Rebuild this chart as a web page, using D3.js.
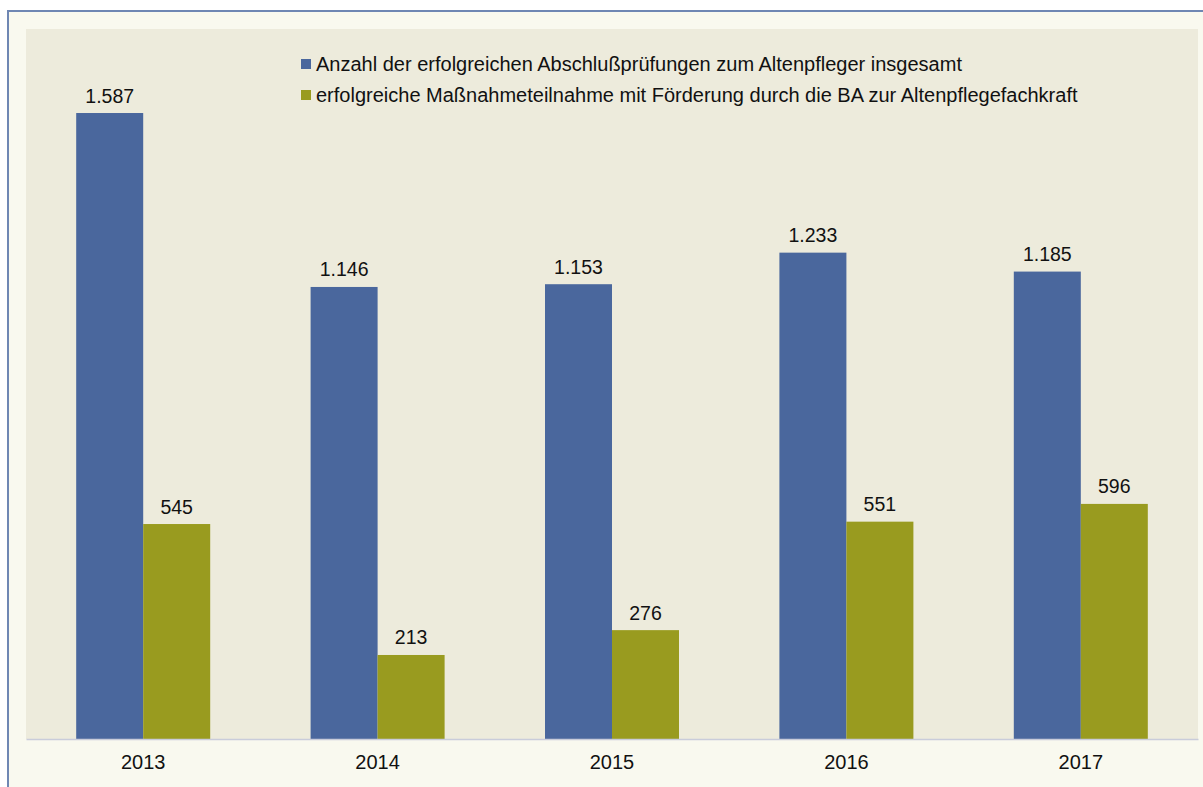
<!DOCTYPE html>
<html>
<head>
<meta charset="utf-8">
<script src="https://cdn.jsdelivr.net/npm/d3@7"></script>
<style>
  body { margin: 0; background: #ffffff; }
  svg { display: block; font-family: "Liberation Sans", Arial, sans-serif; }
</style>
</head>
<body>
<div id="bar-chart"></div>
<script>
const years = ["2013", "2014", "2015", "2016", "2017"];
const seriesNames = [
    "Anzahl der erfolgreichen Abschlußprüfungen zum Altenpfleger insgesamt",
    "erfolgreiche Maßnahmeteilnahme mit Förderung durch die BA zur Altenpflegefachkraft"
];
const abschluesse = [1587, 1146, 1153, 1233, 1185];
const massnahmen = [545, 213, 276, 551, 596];
const colors = ["#4a679d", "#999b1f"];

const W = 1203, H = 787;
const plot = { left: 26, right: 1198, top: 29, bottom: 739 };

const svg = d3.select("#bar-chart")
    .append("svg")
    .attr("width", W)
    .attr("height", H);

// outer frame (runs off the right and bottom edge)
svg.append("rect")
    .attr("x", 8).attr("y", 11)
    .attr("width", W + 20).attr("height", H + 20)
    .attr("fill", "#f9f9ef")
    .attr("stroke", "#6f87b3")
    .attr("stroke-width", 2);

// plot area
svg.append("rect")
    .attr("x", plot.left).attr("y", plot.top)
    .attr("width", plot.right - plot.left)
    .attr("height", plot.bottom - plot.top)
    .attr("fill", "#edebdc");

const x0 = d3.scaleBand().domain(years).range([plot.left, plot.right]).paddingInner(0).paddingOuter(0);
const x1 = d3.scaleBand().domain([0, 1]).range([x0.bandwidth() / 2 - 67, x0.bandwidth() / 2 + 67]);
const y = d3.scaleLinear().domain([0, 1800]).range([plot.bottom, plot.top]);

const data = years.map((yr, i) => ({ year: yr, values: [abschluesse[i], massnahmen[i]] }));
const fmt = v => d3.format(",")(v).replace(",", ".");

const groups = svg.selectAll("g.year")
    .data(data)
    .enter()
    .append("g")
    .attr("class", "year")
    .attr("transform", d => `translate(${x0(d.year)},0)`);

groups.selectAll("rect")
    .data(d => d.values.map((v, k) => ({ k, v })))
    .enter()
    .append("rect")
    .attr("x", d => x1(d.k))
    .attr("y", d => y(d.v))
    .attr("width", x1.bandwidth())
    .attr("height", d => y(0) - y(d.v))
    .attr("fill", d => colors[d.k]);

groups.selectAll("text.value")
    .data(d => d.values.map((v, k) => ({ k, v })))
    .enter()
    .append("text")
    .attr("class", "value")
    .attr("x", d => x1(d.k) + x1.bandwidth() / 2)
    .attr("y", d => y(d.v) - 10.5)
    .attr("text-anchor", "middle")
    .style("font-size", "19.5px")
    .style("fill", "#111")
    .text(d => fmt(d.v));

// x axis
const xAxis = d3.axisBottom(x0).tickSize(0).tickPadding(16);
const ax = svg.append("g")
    .attr("transform", `translate(0,${plot.bottom})`)
    .call(xAxis);
ax.select(".domain").attr("stroke", "#c9ccda").attr("stroke-width", 1.5);
ax.selectAll("text")
    .style("font-size", "20px")
    .style("font-family", "Liberation Sans, Arial, sans-serif")
    .attr("fill", "#111");

// legend
const legend = svg.append("g").attr("transform", "translate(301,64)");
seriesNames.forEach((name, k) => {
    const row = legend.append("g").attr("transform", `translate(0,${k * 31})`);
    row.append("rect").attr("x", 0).attr("y", -5).attr("width", 10).attr("height", 10).attr("fill", colors[k]);
    row.append("text")
        .attr("x", 15)
        .attr("y", 0)
        .attr("dy", "0.35em")
        .style("font-size", "20px")
        .style("fill", "#111")
        .text(name);
});
</script>
</body>
</html>
